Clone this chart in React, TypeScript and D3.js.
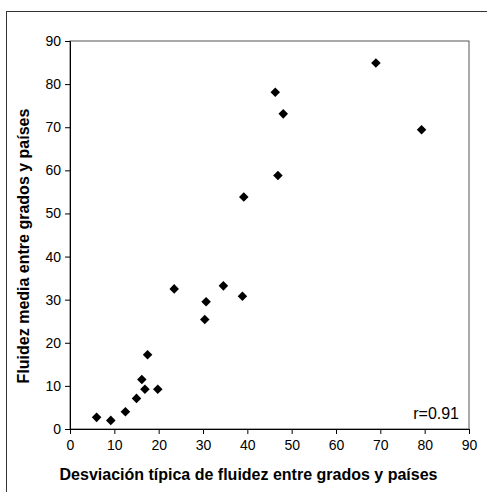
import React, { useEffect, useRef } from 'react';
import * as d3 from 'd3';

// desviación típica (x) and fluidez media (y)
const desviacion = [6.0, 9.2, 12.5, 15.0, 16.2, 16.9, 17.5, 19.8, 23.5, 30.4, 30.7, 34.6, 38.9, 39.2, 46.3, 46.9, 48.1, 69.0, 79.3];
const fluidez = [2.7, 2.0, 4.0, 7.1, 11.5, 9.2, 17.2, 9.2, 32.5, 25.4, 29.5, 33.2, 30.8, 53.8, 78.1, 58.8, 73.1, 84.9, 69.4];
const xTicks = [0, 10, 20, 30, 40, 50, 60, 70, 80, 90];
const yTicks = [0, 10, 20, 30, 40, 50, 60, 70, 80, 90];
const xTitle = 'Desviación típica de fluidez entre grados y países';
const yTitle = 'Fluidez media entre grados y países';
const rLabel = 'r=0.91';

const App = () => {
  const svgRef = useRef<SVGSVGElement | null>(null);

  useEffect(() => {
    if (!svgRef.current) return;
    const svg = d3.select(svgRef.current);
    svg.selectAll('*').remove();

    const width = 487;
    const height = 492;
    const margin = { top: 41, right: 18, bottom: 63, left: 70 };
    const font = 'Arial, "Liberation Sans", sans-serif';

    const x = d3.scaleLinear().domain([0, 90]).range([margin.left, width - margin.right]);
    const y = d3.scaleLinear().domain([0, 90]).range([height - margin.bottom, margin.top]);

    // outer frame (runs off the right and bottom of the picture)
    svg.append('rect')
      .attr('x', 6.5).attr('y', 11.5)
      .attr('width', 490).attr('height', 490)
      .attr('fill', 'none').attr('stroke', '#333').attr('stroke-width', 1);

    // plot box
    svg.append('rect')
      .attr('x', x(0)).attr('y', y(90))
      .attr('width', x(90) - x(0)).attr('height', y(0) - y(90))
      .attr('fill', 'none').attr('stroke', '#555').attr('stroke-width', 1);

    const xAxis = svg.append('g')
      .attr('transform', `translate(0,${y(0)})`)
      .call(d3.axisBottom(x).tickValues(xTicks).tickSize(5).tickPadding(6));
    const yAxis = svg.append('g')
      .attr('transform', `translate(${x(0)},0)`)
      .call(d3.axisLeft(y).tickValues(yTicks).tickSize(5).tickPadding(4));

    [xAxis, yAxis].forEach(g => {
      g.select('.domain').attr('stroke', '#000');
      g.selectAll('.tick line').attr('stroke', '#000');
      g.selectAll('.tick text')
        .attr('fill', '#000')
        .attr('font-size', '14px')
        .attr('font-family', font);
    });

    // diamonds
    const diamond = d3.symbol().type(d3.symbolDiamond2).size(58);
    svg.append('g')
      .selectAll('path')
      .data(desviacion)
      .join('path')
      .attr('transform', (d, i) => `translate(${x(d)},${y(fluidez[i])})`)
      .attr('d', diamond)
      .attr('fill', '#000');

    svg.append('text')
      .attr('x', x(87.75))
      .attr('y', y(2.3))
      .attr('text-anchor', 'end')
      .attr('font-size', '16px')
      .attr('font-family', font)
      .text(rLabel);

    svg.append('text')
      .attr('x', (x(0) + x(90)) / 2 - 21)
      .attr('y', 480)
      .attr('text-anchor', 'middle')
      .attr('font-size', '16px')
      .attr('font-weight', 'bold')
      .attr('font-family', font)
      .text(xTitle);

    svg.append('text')
      .attr('transform', `translate(29,${(y(0) + y(90)) / 2 + 11}) rotate(-90)`)
      .attr('text-anchor', 'middle')
      .attr('font-size', '16px')
      .attr('font-weight', 'bold')
      .attr('font-family', font)
      .text(yTitle);
  }, []);

  return (
    <svg
      ref={svgRef}
      width={487}
      height={492}
      style={{ position: 'absolute', left: 0, top: 0, background: '#fff' }}
    />
  );
};

export default App;
